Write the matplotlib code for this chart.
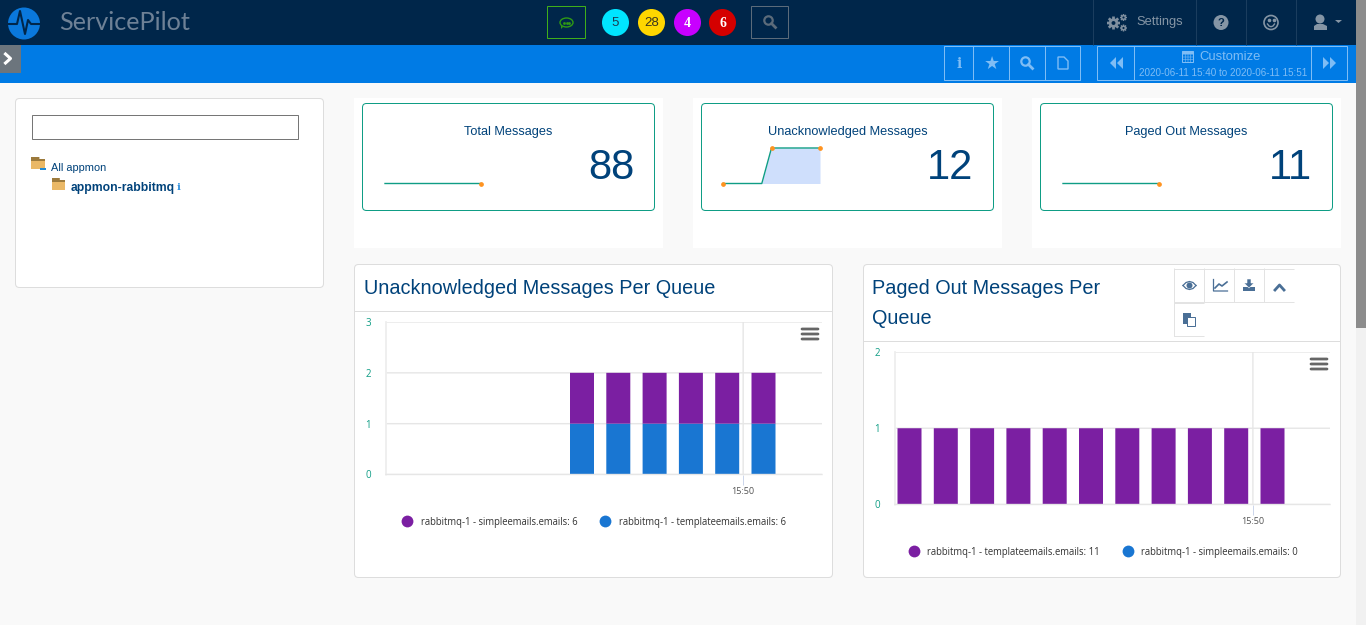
import matplotlib
matplotlib.use('Agg')
import matplotlib.pyplot as plt
from matplotlib.patches import FancyBboxPatch, Rectangle, Circle, Ellipse, Polygon

plt.rcParams['path.snap'] = False

W, H = 1366, 625
PX = 0.72  # one pixel line at 100 dpi

# minutes 15:40 to 15:50, one value per minute
minutes = list(range(11))
total_spark = [8, 8, 8, 8, 8, 8, 8, 8, 8, 8, 8]
unack_spark = [0, 0, 0, 0, 0, 2, 2, 2, 2, 2, 2]
paged_spark = [1, 1, 1, 1, 1, 1, 1, 1, 1, 1, 1]

card_titles = ['Total Messages', 'Unacknowledged Messages', 'Paged Out Messages']
card_values = ['88', '12', '11']

unack_simple = [None, None, None, None, None, 1, 1, 1, 1, 1, 1]
unack_template = [None, None, None, None, None, 1, 1, 1, 1, 1, 1]
paged_template = [1, 1, 1, 1, 1, 1, 1, 1, 1, 1, 1]

badges = ['5', '28', '4', '6']
badge_colors = ['#00e5ff', '#ffd600', '#c800ff', '#d50000']
badge_text = ['#1d3b50', '#3a3520', 'white', 'white']

NAVY = '#00264a'
BLUE = '#007be5'
TITLE = '#00427a'
TEAL = '#0f9d85'
PURPLE = '#7b1fa2'
BAR_BLUE = '#1976d2'
GRID = '#e6e6e6'
NAVTEXT = '#8595a5'
LIGHT = '#7fbdf5'
ICON = '#4a6f96'
SANS = 'Liberation Sans'

fig = plt.figure(figsize=(W / 100, H / 100), dpi=100, facecolor='#f9f9f9')
bg = fig.add_axes([0, 0, 1, 1])
bg.set_xlim(0, W)
bg.set_ylim(H, 0)
bg.axis('off')


def px_axes(x0, y0, x1, y1):
    return fig.add_axes([x0 / W, 1 - y1 / H, (x1 - x0) / W, (y1 - y0) / H])


def box(x0, y0, x1, y1, fc='white', ec='#dddddd', lw=PX, r=4, z=1):
    bg.add_patch(FancyBboxPatch((x0, y0), x1 - x0, y1 - y0, boxstyle=f'round,pad=0,rounding_size={r}',
                                fc=fc, ec=ec, lw=lw, zorder=z))


def rect(x0, y0, x1, y1, fc='none', ec='none', lw=PX, z=2):
    bg.add_patch(Rectangle((x0, y0), x1 - x0, y1 - y0, fc=fc, ec=ec, lw=lw if ec != 'none' else 0, zorder=z))


def txt(x, y, s, size, color, ha='left', family=SANS, **kw):
    bg.text(x, y, s, fontsize=size, color=color, ha=ha, va='center', family=family, zorder=5, **kw)


def magnifier(x, y, color, lw=1.6):
    bg.add_patch(Circle((x - 1.5, y - 1.5), 4.2, fc='none', ec=color, lw=lw, zorder=5))
    bg.plot([x + 1.5, x + 5.5], [y + 1.5, y + 5.5], color=color, lw=lw + 0.4, zorder=5)


def folder(x, y, w, h):
    rect(x, y, x + w * 0.6, y + 3, fc='#9c7a3c')
    rect(x, y + 2, x + w, y + 4, fc='#9c7a3c')
    rect(x, y + 4, x + w, y + h, fc='#eab866')


def cog(x, y, r, color):
    d = r * 0.72
    for dx, dy in [(r, 0), (0, r), (d, d), (d, -d)]:
        bg.plot([x - dx, x + dx], [y - dy, y + dy], color=color, lw=r * 0.3, zorder=4, solid_capstyle='butt')
    bg.add_patch(Circle((x, y), r * 0.72, fc=color, ec='none', zorder=4))
    bg.add_patch(Circle((x, y), r * 0.3, fc=NAVY, ec='none', zorder=5))


# top bars
rect(0, 0, 1356, 45, fc=NAVY)
rect(0, 45, 1356, 83, fc=BLUE)
rect(1356, 0, 1366, 625, fc='#f1f1f1')
rect(1356, 0, 1366, 328, fc='#8c8c8c')

# logo
bg.add_patch(Circle((24, 23.5), 16, fc='#0a78dc', ec='none', zorder=3))
bg.plot([8, 17, 20, 25, 28, 31, 40], [24, 24, 11, 34, 20, 24, 24], color=NAVY, lw=1.5, zorder=4)
txt(59.5, 22, 'ServicePilot', 18.2, '#6e8196', family='Lato')

# side toggle
rect(0, 45, 21, 73, fc='#6c757d')
bg.plot([5.5, 10.5, 5.5], [54, 58.5, 63], color='white', lw=2.2, zorder=5)

# centre of the navbar
rect(547.5, 6.5, 585.5, 38.5, ec='#3fae1a')
bg.add_patch(Ellipse((566.5, 22.5), 13, 9, fc='none', ec='#2f9a14', lw=1, zorder=4))
bg.add_patch(Polygon([[561, 25.5], [563, 27], [561, 29]], fc='#2f9a14', ec='none', zorder=4))
for dx in [-2.5, 0, 2.5]:
    bg.plot([566.5 + dx], [22.5], 's', color='#2f9a14', ms=0.9, zorder=5)
for cx, label, c, tc in zip([615.5, 651.5, 687.5, 722.5], badges, badge_colors, badge_text):
    bg.add_patch(Circle((cx, 22.5), 13.5, fc=c, ec='none', zorder=3))
    if tc == 'white':
        txt(cx, 23.5, label, 10, tc, ha='center', family='Liberation Serif', fontweight='bold')
    else:
        txt(cx, 23.5, label, 9.5, tc, ha='center')
rect(751.5, 6.5, 788.5, 38.5, ec='#5c6b7a')
magnifier(770, 22, '#5c6b7a')

# right of the navbar
for x in [1093.5, 1196.5, 1246.5, 1296.5]:
    bg.plot([x, x], [0, 45], color='#1b3d5e', lw=PX, zorder=3)
cog(1113.5, 23, 6.5, '#7f8f9f')
cog(1123.5, 17.5, 3.5, '#7f8f9f')
cog(1123.5, 28, 3.5, '#7f8f9f')
txt(1136, 22.5, 'Settings', 9.3, NAVTEXT)
bg.add_patch(Circle((1221, 22.5), 7.5, fc=NAVTEXT, ec='none', zorder=3))
txt(1221, 23.5, '?', 8, NAVY, ha='center', fontweight='bold')
bg.add_patch(Circle((1271, 22.5), 7, fc='none', ec=NAVTEXT, lw=1.2, zorder=3))
bg.plot([1268.5, 1273.5], [20, 20], ' ', marker='o', color=NAVTEXT, ms=1.6, zorder=4)
bg.plot([1267.5, 1269, 1271, 1273, 1274.5], [24, 26, 26.7, 26, 24], color=NAVTEXT, lw=1, zorder=4)
bg.add_patch(Circle((1320, 19), 4.5, fc=NAVTEXT, ec='none', zorder=3))
bg.add_patch(Polygon([[1314, 30], [1314, 26], [1317, 24], [1323, 24], [1327, 26], [1327, 30]], fc=NAVTEXT, ec='none', zorder=3))
bg.add_patch(Polygon([[1335, 20], [1342, 20], [1338.5, 23]], fc=NAVTEXT, ec='none', zorder=3))

# blue bar buttons
rect(944.5, 46.5, 1080.5, 80.5, ec=LIGHT)
for x in [973.5, 1009.5, 1045.5, 1134.5, 1311.5]:
    bg.plot([x, x], [46.5, 80.5], color=LIGHT, lw=PX, zorder=3)
rect(1097.5, 46.5, 1347.5, 80.5, ec=LIGHT)
txt(959, 64, 'i', 10, LIGHT, ha='center', fontweight='bold', family='DejaVu Serif')
txt(991.5, 63.5, '★', 13, LIGHT, ha='center', family='DejaVu Sans')
magnifier(1027, 63, LIGHT)
bg.add_patch(Polygon([[1058, 57], [1064, 57], [1068, 61], [1068, 69], [1058, 69]], fc='none', ec=LIGHT, lw=1, zorder=4))
bg.add_patch(Polygon([[1116, 57], [1116, 69], [1110, 63]], fc=LIGHT, ec='none', zorder=4))
bg.add_patch(Polygon([[1123, 57], [1123, 69], [1117, 63]], fc=LIGHT, ec='none', zorder=4))
bg.add_patch(Polygon([[1323, 57], [1323, 69], [1329, 63]], fc=LIGHT, ec='none', zorder=4))
bg.add_patch(Polygon([[1330, 57], [1330, 69], [1336, 63]], fc=LIGHT, ec='none', zorder=4))
rect(1182.5, 51.5, 1193.5, 62.5, ec=LIGHT, z=4)
rect(1182.5, 51.5, 1193.5, 54.5, fc=LIGHT, z=4)
for gx in [1185.5, 1188, 1190.5]:
    bg.plot([gx, gx], [54.5, 62.5], color=LIGHT, lw=0.4, zorder=4)
for gy in [57, 59.7]:
    bg.plot([1182.5, 1193.5], [gy, gy], color=LIGHT, lw=0.4, zorder=4)
txt(1199, 57.5, 'Customize', 9.4, LIGHT)
txt(1223, 73.5, '2020-06-11 15:40 to 2020-06-11 15:51', 7.15, LIGHT, ha='center')

# left tree panel
box(15.5, 98.5, 323.5, 287.5)
rect(32.5, 115.5, 298.5, 139.5, fc='white', ec='#767676')
folder(31, 157, 14, 12)
rect(40, 168, 46, 170, fc='#1f8ad6', z=4)
txt(51, 168, 'All appmon', 7.9, TITLE)
folder(52, 178, 13, 12)
txt(71, 187.5, 'appmon-rabbitmq', 8.7, TITLE, fontweight='bold')
txt(179, 187.5, 'i', 7.5, '#2f8fdc', ha='center', family='DejaVu Serif', fontweight='bold')

# summary cards
card_x = [(354, 663, 362, 655), (693, 1002, 701, 994), (1032, 1341, 1040, 1333)]
spark_x = [(385, 481), (723, 820), (1063, 1159)]
sparks = [total_spark, unack_spark, paged_spark]
for (o0, o1, i0, i1), title, val, sx, sp in zip(card_x, card_titles, card_values, spark_x, sparks):
    rect(o0, 98, o1, 248, fc='white', z=1)
    box(i0 + 0.5, 103.5, i1 - 0.5, 210.5, ec=TEAL, r=4, z=2)
    txt((i0 + i1) / 2, 132, title, 9.2, TITLE, ha='center')
    txt(i1 - 20.5, 168, val, 30, TITLE, ha='right')
    ax = px_axes(sx[0], 148, sx[1], 183.5)
    ax.patch.set_alpha(0)
    ax.axis('off')
    ax.set_xlim(0, 10)
    low = min(sp)
    varies = max(sp) > low
    ax.set_ylim(low, max(sp) if varies else low + 1)
    if varies:
        ax.fill_between(minutes[4:], sp[4:], low, color='#cfdffc', lw=0)
        ax.plot([0, 5], [sp[0], sp[5]], 'o', color='#ff9320', ms=2.4, clip_on=False, zorder=4)
    ax.plot(minutes, sp, color=TEAL, lw=1, clip_on=False)
    ax.plot([10], [sp[10]], 'o', color='#ff9320', ms=2.4, clip_on=False, zorder=4)


def chart(x0, x1, y_top, y_zero, y_max, series, tick_x, menu_x, legend_items):
    ax = px_axes(x0, y_top, x1, y_zero)
    ax.set_facecolor('white')
    step = 36.3
    left = 14.5
    ax.set_xlim(-left / step, (x1 - x0 - left) / step)
    ax.set_ylim(0, y_max)
    ax.spines['top'].set_visible(False)
    ax.spines['right'].set_visible(False)
    ax.spines['bottom'].set_color(GRID)
    ax.spines['bottom'].set_linewidth(1)
    ax.spines['left'].set_color('#eeeeee')
    ax.spines['left'].set_linewidth(1.3)
    ax.set_yticks(range(y_max + 1))
    ax.set_yticklabels([str(v) for v in range(y_max + 1)], fontsize=7, color=TEAL, family='Open Sans')
    ax.tick_params(axis='y', length=0, pad=11)
    ax.yaxis.grid(True, color=GRID, lw=1)
    ax.set_axisbelow(True)
    ax.set_xticks([tick_x])
    ax.set_xticklabels(['15:50'], fontsize=6.6, color='#555555', family='Open Sans')
    ax.tick_params(axis='x', length=7, color='#ccd6eb', width=PX, pad=2)
    ax.axvline(tick_x, color=GRID, lw=1, zorder=1)
    base = [0] * len(minutes)
    for vals, color in reversed(series):
        xs = [m for m, v in zip(minutes, vals) if v is not None]
        hs = [v for v in vals if v is not None]
        ax.bar(xs, hs, bottom=[base[m] for m in xs], width=24 / step, color=color, zorder=2)
        for m in xs:
            base[m] += 1
    over = fig.add_axes([0, 0, 1, 1], facecolor='none')
    over.set_xlim(0, W)
    over.set_ylim(H, 0)
    over.axis('off')
    for dy in [0, 5, 10]:
        over.plot([menu_x, menu_x + 16], [y_top + 7 + dy, y_top + 7 + dy], color='#666666', lw=2, solid_capstyle='round')
    ly = y_zero + 47
    for mx, tx, label, color in legend_items:
        over.plot([mx], [ly - 0.5], 'o', color=color, ms=8.5, mew=0)
        over.text(tx, ly + 0.5, label, fontsize=6.88, color='#333333', family='Open Sans', va='center')


# chart panels
box(354.5, 264.5, 832.5, 577.5, z=1)
box(863.5, 264.5, 1340.5, 577.5, z=1)
bg.plot([355, 832], [311.5, 311.5], color='#dddddd', lw=PX, zorder=2)
bg.plot([864, 1340], [341.5, 341.5], color='#dddddd', lw=PX, zorder=2)
txt(364, 289, 'Unacknowledged Messages Per Queue', 14.35, TITLE)
txt(872, 289, 'Paged Out Messages Per', 14.35, TITLE)
txt(872, 319, 'Queue', 14.35, TITLE)

# chart tool buttons
for x in [1174.5, 1204.5, 1234.5, 1264.5]:
    bg.plot([x, x], [269, 302], color='#e3e3e3', lw=PX, zorder=3)
bg.plot([1174.5, 1294], [269.5, 269.5], color='#e3e3e3', lw=PX, zorder=3)
bg.plot([1174.5, 1294], [302.5, 302.5], color='#e3e3e3', lw=PX, zorder=3)
bg.plot([1174.5, 1204], [303.5, 303.5], color='#e3e3e3', lw=PX, zorder=3)
bg.plot([1174.5, 1174.5], [303, 336], color='#e3e3e3', lw=PX, zorder=3)
bg.plot([1174.5, 1204], [336.5, 336.5], color='#e3e3e3', lw=PX, zorder=3)
bg.add_patch(Circle((1189.5, 285.5), 3, fc=ICON, ec='none', zorder=4))
bg.plot([1183, 1186, 1189.5, 1193, 1196], [285.5, 282.5, 281.5, 282.5, 285.5], color=ICON, lw=0.9, zorder=4)
bg.plot([1183, 1186, 1189.5, 1193, 1196], [285.5, 288.5, 289.5, 288.5, 285.5], color=ICON, lw=0.9, zorder=4)
bg.plot([1213.5, 1213.5, 1227.5], [279.5, 291, 291], color=ICON, lw=0.9, zorder=4)
bg.plot([1215, 1219, 1222, 1227], [288, 284, 286, 282], color=ICON, lw=1.2, zorder=4)
rect(1243, 287, 1255, 291, fc=ICON, z=4)
bg.add_patch(Polygon([[1247, 279], [1251, 279], [1251, 283], [1254, 283], [1249, 288], [1244, 283], [1247, 283]], fc=ICON, ec='white', lw=0.4, zorder=5))
bg.plot([1275, 1279.5, 1284], [290, 285, 290], color=ICON, lw=2, zorder=4)
rect(1183, 313, 1191, 324, fc=ICON, z=4)
rect(1187.5, 317.5, 1195.5, 326.5, fc='white', ec=ICON, z=5)

simple_total = sum(v for v in unack_simple if v)
template_total = sum(v for v in unack_template if v)
paged_total = sum(paged_template)

chart(386, 822, 322, 474.5, 3,
      [(unack_simple, PURPLE), (unack_template, BAR_BLUE)], 9.44, 802,
      [(407, 421, f'rabbitmq-1 - simpleemails.emails: {simple_total}', PURPLE),
       (605, 619, f'rabbitmq-1 - templateemails.emails: {template_total}', BAR_BLUE)])
chart(895, 1330, 352, 504.5, 2,
      [(paged_template, PURPLE)], 9.46, 1311,
      [(914, 927, f'rabbitmq-1 - templateemails.emails: {paged_total}', PURPLE),
       (1128, 1141, 'rabbitmq-1 - simpleemails.emails: 0', BAR_BLUE)])

fig.savefig('out.png', dpi=100, facecolor=fig.get_facecolor())
